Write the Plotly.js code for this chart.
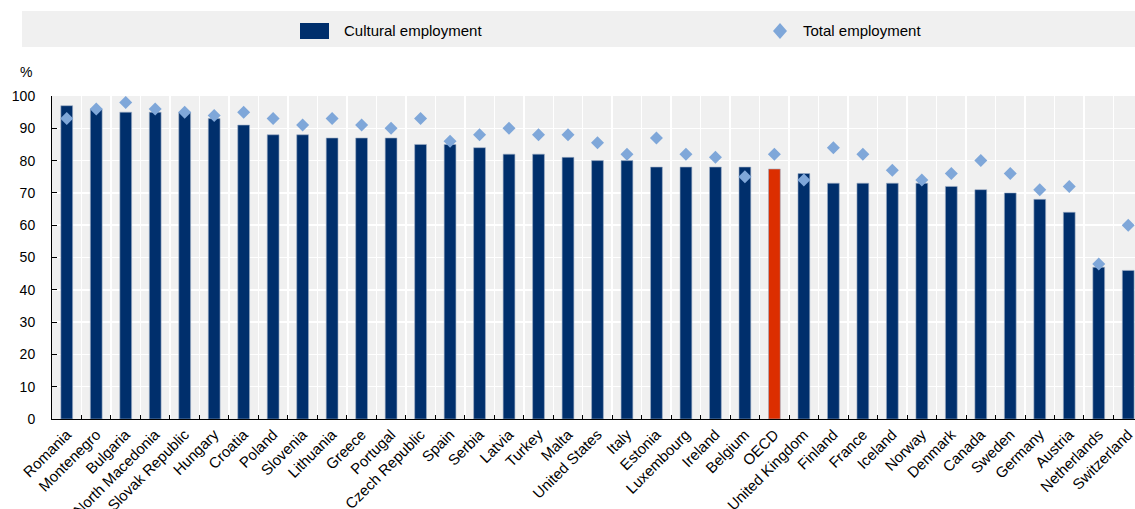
<!DOCTYPE html>
<html>
<head>
<meta charset="utf-8">
<script src="https://cdn.plot.ly/plotly-3.0.1.min.js"></script>
<style>
html,body{margin:0;padding:0;background:#fff;overflow:hidden;}
#chart{width:1135px;height:509px;}
</style>
</head>
<body>
<div id="chart"></div>
<script>
const countries = ["Romania","Montenegro","Bulgaria","North Macedonia","Slovak Republic","Hungary","Croatia","Poland","Slovenia","Lithuania","Greece","Portugal","Czech Republic","Spain","Serbia","Latvia","Turkey","Malta","United States","Italy","Estonia","Luxembourg","Ireland","Belgium","OECD","United Kingdom","Finland","France","Iceland","Norway","Denmark","Canada","Sweden","Germany","Austria","Netherlands","Switzerland"];
const culturalEmployment = [97,96,95,95,95,93,91,88,88,87,87,87,85,85,84,82,82,81,80,80,78,78,78,78,77.4,76,73,73,73,73,72,71,70,68,64,47,46];
const totalEmployment = [93,96,98,96,95,94,95,93,91,93,91,90,93,86,88,90,88,88,85.5,82,87,82,81,75,82,74,84,82,77,74,76,80,76,71,72,48,60];
const yTicks = [0,10,20,30,40,50,60,70,80,90,100];
const legendLabels = ["Cultural employment","Total employment"];

const NAVY = "#002F6C", RED = "#DC2E00", DIAMOND = "#7FA7D9";
const barColors = countries.map(c => c === "OECD" ? RED : NAVY);

// pixel -> paper helpers (plot area: x 52..1135, y 96..419)
const L = 52, R = 1135, T = 96, B = 419;
const px = x => (x - L) / (R - L);
const py = y => (B - y) / (B - T);

const FONT = "Liberation Sans, Arial, sans-serif";

const traces = [
  {
    type: "bar", x: countries, y: culturalEmployment, name: legendLabels[0],
    marker: {color: barColors, line: {color: "#9fb0c8", width: 0.6}},
    width: 0.4, showlegend: false, hoverinfo: "x+y"
  },
  {
    type: "scatter", mode: "markers", x: countries, y: totalEmployment, name: legendLabels[1],
    marker: {symbol: "diamond", size: 10, color: DIAMOND}, showlegend: false, hoverinfo: "x+y"
  }
];

const shapes = [
  {type: "rect", xref: "paper", yref: "paper", x0: px(22), x1: px(1135), y0: py(47), y1: py(11),
   fillcolor: "#f0f0f0", line: {width: 0}, layer: "below"},
  {type: "rect", xref: "paper", yref: "paper", x0: px(300), x1: px(329), y0: py(39), y1: py(23),
   fillcolor: NAVY, line: {width: 0}},
  {type: "path", xref: "paper", yref: "paper",
   path: `M ${px(780)} ${py(23)} L ${px(787)} ${py(31)} L ${px(780)} ${py(39)} L ${px(773)} ${py(31)} Z`,
   fillcolor: DIAMOND, line: {width: 0}}
];

const annotations = [
  {xref: "paper", yref: "paper", x: px(342), y: py(31), xanchor: "left", yanchor: "middle",
   text: legendLabels[0], showarrow: false, font: {family: FONT, size: 15, color: "#000"}},
  {xref: "paper", yref: "paper", x: px(801), y: py(31), xanchor: "left", yanchor: "middle",
   text: legendLabels[1], showarrow: false, font: {family: FONT, size: 15, color: "#000"}},
  {xref: "paper", yref: "paper", x: px(34), y: py(72), xanchor: "right", yanchor: "middle",
   text: "%", showarrow: false, font: {family: FONT, size: 14, color: "#000"}}
];

const layout = {
  width: 1135, height: 509,
  margin: {l: L, r: 0, t: T, b: 509 - B, pad: 0},
  paper_bgcolor: "#fff", plot_bgcolor: "#f0f0f0",
  font: {family: FONT, size: 14, color: "#000"},
  showlegend: false,
  xaxis: {
    type: "category", range: [-0.5, 36.23], tickson: "boundaries",
    showgrid: true, gridcolor: "#fff", gridwidth: 1.5,
    ticks: "inside", ticklen: 4, tickcolor: "#000", tickwidth: 1,
    showline: true, linecolor: "#000", linewidth: 1,
    tickangle: -45, tickfont: {family: FONT, size: 15, color: "#000"},
    fixedrange: true
  },
  yaxis: {
    range: [0, 100], tickvals: yTicks, ticktext: yTicks.map(String),
    showgrid: true, gridcolor: "#fff", gridwidth: 1.5, zeroline: false,
    ticks: "inside", ticklen: 5, tickcolor: "#000", tickwidth: 1,
    showline: true, linecolor: "#000", linewidth: 1,
    tickfont: {family: FONT, size: 14, color: "#000"}, ticklabelstandoff: 13,
    fixedrange: true
  },
  shapes: shapes,
  annotations: annotations
};

Plotly.newPlot("chart", traces, layout, {displayModeBar: false, staticPlot: true});
</script>
</body>
</html>
